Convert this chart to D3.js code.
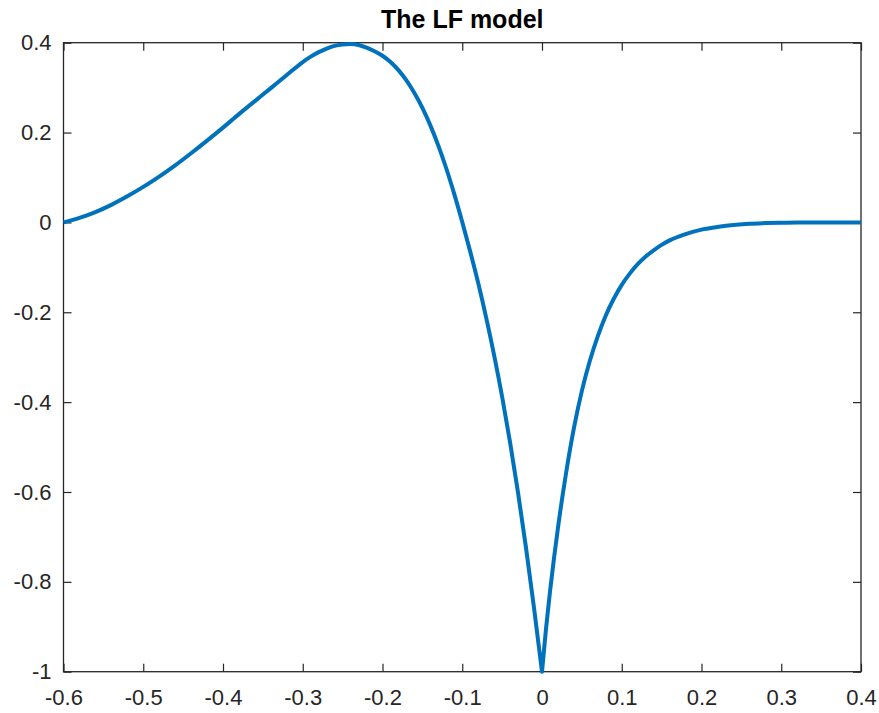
<!DOCTYPE html>
<html>
<head>
<meta charset="utf-8">
<script src="https://cdn.jsdelivr.net/npm/d3@7"></script>
<style>
  html, body { margin: 0; padding: 0; background: #fff; }
  svg { display: block; }
  .tick text { font-family: "Liberation Sans", Arial, sans-serif; fill: #262626; }
</style>
</head>
<body>
<svg id="chart" width="879" height="713"></svg>
<script>
// LF glottal flow derivative, open phase (from glottal opening to the excitation instant t = 0)
const openPhaseT = [-0.60, -0.58, -0.56, -0.54, -0.52, -0.50, -0.48, -0.46, -0.44, -0.42,
  -0.40, -0.38, -0.36, -0.34, -0.32, -0.30, -0.29, -0.28, -0.27, -0.26, -0.25, -0.24,
  -0.23, -0.22, -0.21, -0.20, -0.19, -0.18, -0.17, -0.16, -0.15, -0.14, -0.13, -0.12,
  -0.11, -0.10, -0.09, -0.08, -0.07, -0.06, -0.05, -0.04, -0.03, -0.02, -0.01, 0.00];
const openPhaseU = [0.000, 0.010, 0.023, 0.039, 0.058, 0.079, 0.102, 0.127, 0.154, 0.182,
  0.211, 0.241, 0.270, 0.299, 0.328, 0.357, 0.369, 0.379, 0.387, 0.393, 0.396, 0.397,
  0.395, 0.389, 0.381, 0.371, 0.357, 0.339, 0.316, 0.288, 0.255, 0.216, 0.171, 0.120,
  0.063, 0.001, -0.065, -0.135, -0.212, -0.296, -0.388, -0.490, -0.602, -0.725, -0.858, -1.000];

// return phase (from the excitation instant back to closure)
const returnPhaseT = [0.000, 0.005, 0.010, 0.015, 0.020, 0.030, 0.040, 0.050, 0.060, 0.070,
  0.080, 0.090, 0.100, 0.110, 0.120, 0.130, 0.140, 0.150, 0.160, 0.180, 0.200, 0.220,
  0.240, 0.260, 0.280, 0.300, 0.320, 0.400];
const returnPhaseU = [-1.000, -0.905, -0.822, -0.748, -0.680, -0.560, -0.458, -0.375, -0.308, -0.253,
  -0.207, -0.170, -0.139, -0.114, -0.093, -0.076, -0.062, -0.050, -0.040, -0.026, -0.016, -0.010,
  -0.006, -0.003, -0.0015, -0.0005, 0.000, 0.000];

const xTicks = [-0.6, -0.5, -0.4, -0.3, -0.2, -0.1, 0, 0.1, 0.2, 0.3, 0.4];
const yTicks = [-1, -0.8, -0.6, -0.4, -0.2, 0, 0.2, 0.4];
const chartTitle = "The LF model";

const svg = d3.select("#chart");
const W = 879, H = 713;
const margin = { left: 63.5, right: 18, top: 42.7, bottom: 41.3 };
const x = d3.scaleLinear().domain([-0.6, 0.4]).range([margin.left, W - margin.right]);
const y = d3.scaleLinear().domain([-1, 0.4]).range([H - margin.bottom, margin.top]);

// plain hyphen for negatives
const fmt = d => String(+d.toFixed(1));
const axisColor = "#262626";
const tickLen = 8;

const gx = svg.append("g").attr("transform", `translate(0,${y(-1)})`)
  .call(d3.axisBottom(x).tickValues(xTicks).tickFormat(fmt).tickSizeInner(-tickLen).tickSizeOuter(0).tickPadding(18));
const gxt = svg.append("g").attr("transform", `translate(0,${y(0.4)})`)
  .call(d3.axisTop(x).tickValues(xTicks).tickFormat("").tickSizeInner(-tickLen).tickSizeOuter(0));
const gy = svg.append("g").attr("transform", `translate(${x(-0.6)},0)`)
  .call(d3.axisLeft(y).tickValues(yTicks).tickFormat(fmt).tickSizeInner(-tickLen).tickSizeOuter(0).tickPadding(12));
const gyr = svg.append("g").attr("transform", `translate(${x(0.4)},0)`)
  .call(d3.axisRight(y).tickValues(yTicks).tickFormat("").tickSizeInner(-tickLen).tickSizeOuter(0));

[gx, gxt, gy, gyr].forEach(g => {
  g.select(".domain").remove();
  g.selectAll(".tick line").attr("stroke", axisColor).attr("stroke-width", 1.2);
  g.selectAll(".tick text").attr("font-size", 22);
});

// axes box
svg.append("rect")
  .attr("x", x(-0.6)).attr("y", y(0.4))
  .attr("width", x(0.4) - x(-0.6)).attr("height", y(-1) - y(0.4))
  .attr("fill", "none").attr("stroke", axisColor).attr("stroke-width", 1.3);

// waveform: each phase smoothed separately so the cusp at t = 0 stays sharp
const line = d3.line().x(d => x(d[0])).y(d => y(d[1])).curve(d3.curveMonotoneX);
const openPts = openPhaseT.map((t, i) => [t, openPhaseU[i]]);
const retPts = returnPhaseT.map((t, i) => [t, returnPhaseU[i]]);
const pathD = line(openPts) + line(retPts).replace(/^M/, "L");
svg.append("path")
  .attr("d", pathD)
  .attr("fill", "none").attr("stroke", "#0072BD").attr("stroke-width", 4)
  .attr("stroke-linejoin", "round").attr("stroke-linecap", "butt");

svg.append("text")
  .attr("x", (x(-0.6) + x(0.4)) / 2).attr("y", 28)
  .attr("text-anchor", "middle")
  .attr("font-family", "'Liberation Sans', Arial, sans-serif")
  .attr("font-weight", "bold").attr("font-size", 25).attr("fill", "#000")
  .text(chartTitle);
</script>
</body>
</html>
